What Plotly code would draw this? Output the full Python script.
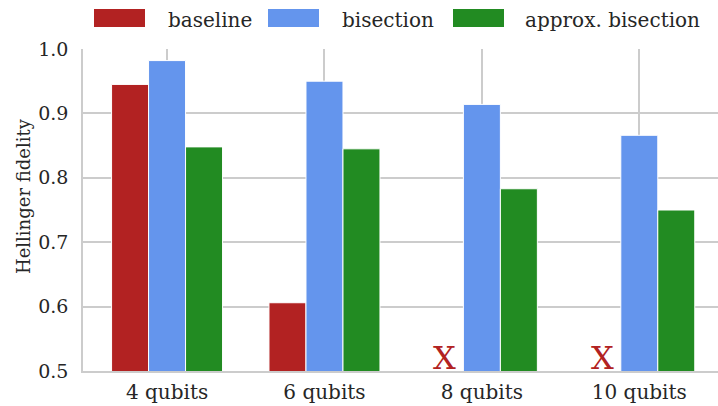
import plotly.graph_objects as go

# ---- data -------------------------------------------------------------
categories = ["4 qubits", "6 qubits", "8 qubits", "10 qubits"]
baseline = [0.945, 0.606, None, None]          # None -> run did not finish
bisection = [0.982, 0.950, 0.914, 0.866]
approx_bisection = [0.848, 0.845, 0.783, 0.750]
y_ticks = [0.5, 0.6, 0.7, 0.8, 0.9, 1.0]
y_tick_labels = ["0.5", "0.6", "0.7", "0.8", "0.9", "1.0"]

series_names = ["baseline", "bisection", "approx. bisection"]
series_values = [baseline, bisection, approx_bisection]
series_colors = ["#b22222", "#6495ed", "#228b22"]

# ---- geometry / style -------------------------------------------------
W, H = 718, 406
ML, MR, MT, MB = 83, 0, 49, 35
PW = W - ML - MR
PH = H - MT - MB
FONT = "DejaVu Serif"
TEXT_COLOR = "#262626"
GRID = "#cccccc"
BARGAP = 0.295
bar_w = (1 - BARGAP) / len(series_names)


def px_x(px):
    return (px - ML) / PW


def px_y(py):
    return (H - MB - py) / PH


xs = list(range(len(categories)))

fig = go.Figure()
for name, vals, color in zip(series_names, series_values, series_colors):
    fig.add_trace(go.Bar(
        x=xs, y=vals, name=name,
        marker=dict(color=color, line=dict(color="white", width=1)),
        showlegend=False,
    ))

# red "X" where the baseline has no result
annotations = []
for i, v in enumerate(baseline):
    if v is None:
        annotations.append(dict(
            x=i - bar_w, y=y_ticks[0], xref="x", yref="y",
            text="X", showarrow=False, xanchor="center", yanchor="bottom",
            yshift=-8, font=dict(family=FONT, size=32, color=series_colors[0]),
        ))

# legend row above the plot
patch_left = [94, 268, 453]
text_left = [166, 340, 523]
shapes = []
for pl, tl, name, color in zip(patch_left, text_left, series_names, series_colors):
    shapes.append(dict(
        type="rect", xref="paper", yref="paper",
        x0=px_x(pl), x1=px_x(pl + 51), y0=px_y(27), y1=px_y(9),
        fillcolor=color, line=dict(width=0),
    ))
    annotations.append(dict(
        x=px_x(tl), y=px_y(20), xref="paper", yref="paper",
        text=name, showarrow=False, xanchor="left", yanchor="middle",
        font=dict(family=FONT, size=20, color=TEXT_COLOR),
    ))

# y-axis title
annotations.append(dict(
    x=px_x(23), y=px_y(196), xref="paper", yref="paper",
    text="Hellinger fidelity", showarrow=False, textangle=-90,
    xanchor="center", yanchor="middle",
    font=dict(family=FONT, size=18, color=TEXT_COLOR),
))

fig.update_layout(
    width=W, height=H,
    margin=dict(l=ML, r=MR, t=MT, b=MB, pad=0),
    paper_bgcolor="white", plot_bgcolor="white",
    barmode="group", bargap=BARGAP, bargroupgap=0,
    font=dict(family=FONT, size=19, color=TEXT_COLOR),
    shapes=shapes, annotations=annotations,
    xaxis=dict(
        range=[-0.534, 3.5], tickmode="array", tickvals=xs, ticktext=categories,
        showgrid=True, gridcolor=GRID, gridwidth=1.5,
        showline=True, linecolor=GRID, linewidth=1.5,
        ticks="", zeroline=False, ticklabelstandoff=2,
        tickfont=dict(family=FONT, size=20, color=TEXT_COLOR),
    ),
    yaxis=dict(
        range=[0.5, 1.0], tickmode="array", tickvals=y_ticks, ticktext=y_tick_labels,
        showgrid=True, gridcolor=GRID, gridwidth=1.5,
        showline=True, linecolor=GRID, linewidth=1.5,
        ticks="", zeroline=False, ticklabelstandoff=9,
        tickfont=dict(family=FONT, size=19, color=TEXT_COLOR),
    ),
)

fig.write_html("out.html")
